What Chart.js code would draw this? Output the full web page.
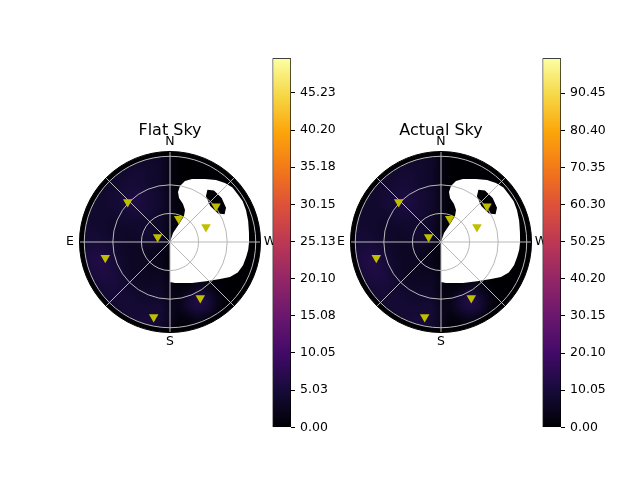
<!DOCTYPE html>
<html>
<head>
<meta charset="utf-8">
<script src="https://cdn.jsdelivr.net/npm/chart.js@4/dist/chart.umd.min.js"></script>
<style>
  html, body { margin: 0; padding: 0; background: #fff; }
  #wrap { position: relative; width: 640px; height: 480px; }
  #wrap canvas { position: absolute; left: 0; top: 0; }
</style>
</head>
<body>
<div id="wrap">
  <canvas id="flatSky" width="640" height="480"></canvas>
  <canvas id="actualSky" width="640" height="480"></canvas>
  <canvas id="flatBar" width="640" height="480"></canvas>
  <canvas id="actualBar" width="640" height="480"></canvas>
</div>
<script>
// satellites (azimuth from N toward E, zenith angle), degrees
const satAzimuth = [46.6, 339.5, 67.9, 307.8, 292.6, 103.6, 208.4, 167.7];
const satZenith = [61.1, 26.1, 14.0, 61.1, 40.9, 69.9, 66.8, 80.5];

// obstructed (white) sky region, and the clear patch inside it
const maskAzimuth = [180, 341.6, 333.4, 331.7, 334.9, 341.1, 348.4, 350.9, 349.9, 346.2, 340.8,
  330.9, 323.4, 317.0, 311.1, 305.0, 299.3, 292.7, 285.2, 277.0, 270.0, 264.4, 259.1, 252.3,
  245.8, 239.7, 233.5, 224.3, 208.2, 187.0, 180];
const maskZenith = [0, 10.0, 21.1, 31.0, 37.1, 42.1, 47.1, 53.1, 59.7, 65.9, 70.0,
  75.6, 81.0, 84.6, 87.0, 87.0, 87.5, 86.5, 85.0, 83.5, 83.0, 82.5, 81.5, 80.5,
  78.0, 72.9, 65.3, 57.1, 48.8, 43.3, 42.0];
const holeAzimuth = [296.9, 301.4, 310.4, 319.5, 324.4, 321.9, 311.8, 300.7];
const holeZenith = [64.2, 68.9, 71.2, 71.1, 67.5, 61.1, 56.7, 58.6];

// sky maps on a 10 deg grid, rows N(+90) -> S(-90), columns E(-90) -> W(+90)
const flatSkyGrid = [
  [3.5, 3.5, 3.5, 3.5, 3.5, 3.5, 3.5, 3.5, 3.5, 1.5, 0, 0, 0, 0, 0, 0, 0, 0, 0],
  [3.5, 3.5, 3.5, 3.5, 4, 4, 4, 4, 3.5, 1.5, 0, 0, 0, 0, 0, 0, 0, 0, 0],
  [3.5, 3.5, 3.5, 4, 4, 4.5, 4.5, 4, 3.5, 1.5, 0, 0, 0, 0, 0, 0, 0, 0, 0],
  [3.5, 3.5, 4, 4, 4.5, 5, 4.5, 4, 3.5, 1.5, 0, 0, 0, 0, 0, 0, 0, 0, 0],
  [3.5, 4, 4, 4.5, 5, 5.5, 5.5, 4.5, 4, 2, 0.5, 0, 0, 0, 0, 0, 0, 0, 0],
  [4, 4, 4, 4.5, 5, 6, 5.5, 4.5, 4, 2, 0.5, 0, 0, 0, 0, 0, 0, 0, 0],
  [4, 4, 4, 4, 4.5, 5, 5, 4.5, 3.5, 2, 0.5, 0, 0, 0, 0, 0, 0, 0, 0],
  [4, 4, 4, 3.5, 4, 4, 4, 4, 3.5, 1.5, 0, 0, 0, 0, 0, 0, 0, 0, 0],
  [4.5, 4.5, 4, 3.5, 3.5, 3.5, 4, 4.5, 3.5, 1.5, 0, 0, 0, 0, 0, 0, 0, 0, 0],
  [4.5, 5, 4.5, 4, 3.5, 3, 3.5, 4, 3, 1, 0, 0, 0, 0, 0, 0, 0, 0, 0],
  [5, 5.5, 5.5, 4.5, 3.5, 3, 3, 2.5, 2, 1, 0, 0, 0, 0, 0, 0, 0, 0, 0],
  [5, 6, 6.5, 5, 4, 3, 3, 2.5, 2, 0.5, 0, 0, 0, 0, 0, 0, 0, 0, 0],
  [4.5, 5.5, 6, 5.5, 4, 3, 3, 2.5, 2.5, 1, 0, 0, 0, 0, 0, 0, 0, 0, 0],
  [4.5, 5, 5.5, 5.5, 4.5, 3.5, 3, 3, 3, 1.5, 0, 0.5, 1, 0.5, 0, 0, 0, 0, 0],
  [4, 4.5, 4.5, 5, 4.5, 4, 3.5, 3.5, 3.5, 1.5, 1, 2, 3.5, 2.5, 1, 0, 0, 0, 0],
  [4, 4, 4.5, 4.5, 4.5, 4.5, 4, 4, 4, 2, 2, 4.5, 6.5, 5, 2, 0.5, 0, 0, 0],
  [4, 4, 4, 4, 4.5, 4.5, 4.5, 4.5, 4.5, 2.5, 2, 4, 5.5, 4.5, 1.5, 0, 0, 0, 0],
  [4, 4, 4, 4, 4, 4.5, 5, 5, 4.5, 2.5, 1, 1.5, 2.5, 1.5, 0.5, 0, 0, 0, 0],
  [4, 4, 4, 4, 4, 4.5, 4.5, 4.5, 4, 2, 0.5, 0.5, 1, 0.5, 0, 0, 0, 0, 0],
];
const actualSkyGrid = [
  [7, 7, 7, 7, 7, 7, 7, 7, 7, 3, 0, 0, 0, 0, 0, 0, 0, 0, 0],
  [7, 7, 7, 7, 8, 8, 8, 8, 7, 3, 0, 0, 0, 0, 0, 0, 0, 0, 0],
  [7, 7, 7, 8, 8, 9, 9, 8, 7, 3, 0, 0, 0, 0, 0, 0, 0, 0, 0],
  [7, 7, 8, 8, 9, 10, 9, 8, 7, 3, 0, 0, 0, 0, 0, 0, 0, 0, 0],
  [7, 8, 8, 9, 10, 11, 11, 9, 8, 4, 1, 0, 0, 0, 0, 0, 0, 0, 0],
  [8, 8, 8, 9, 10, 12, 11, 9, 8, 4, 1, 0, 0, 0, 0, 0, 0, 0, 0],
  [8, 8, 8, 8, 9, 10, 10, 9, 7, 4, 1, 0, 0, 0, 0, 0, 0, 0, 0],
  [8, 8, 8, 7, 8, 8, 8, 8, 7, 3, 0, 0, 0, 0, 0, 0, 0, 0, 0],
  [9, 9, 8, 7, 7, 7, 8, 9, 7, 3, 0, 0, 0, 0, 0, 0, 0, 0, 0],
  [9, 10, 9, 8, 7, 6, 7, 8, 6, 2, 0, 0, 0, 0, 0, 0, 0, 0, 0],
  [10, 11, 11, 9, 7, 6, 6, 5, 4, 2, 0, 0, 0, 0, 0, 0, 0, 0, 0],
  [10, 12, 13, 10, 8, 6, 6, 5, 4, 1, 0, 0, 0, 0, 0, 0, 0, 0, 0],
  [9, 11, 12, 11, 8, 6, 6, 5, 5, 2, 0, 0, 0, 0, 0, 0, 0, 0, 0],
  [9, 10, 11, 11, 9, 7, 6, 6, 6, 3, 0, 1, 2, 1, 0, 0, 0, 0, 0],
  [8, 9, 9, 10, 9, 8, 7, 7, 7, 3, 2, 4, 7, 5, 2, 0, 0, 0, 0],
  [8, 8, 9, 9, 9, 9, 8, 8, 8, 4, 4, 9, 13, 10, 4, 1, 0, 0, 0],
  [8, 8, 8, 8, 9, 9, 9, 9, 9, 5, 4, 8, 11, 9, 3, 0, 0, 0, 0],
  [8, 8, 8, 8, 8, 9, 10, 10, 9, 5, 2, 3, 5, 3, 1, 0, 0, 0, 0],
  [8, 8, 8, 8, 8, 9, 9, 9, 8, 4, 1, 1, 2, 1, 0, 0, 0, 0, 0],
];

// colorbars
const flatMax = 49.9;
const flatTickValues = [0, 5.025, 10.05, 15.075, 20.1, 25.125, 30.15, 35.175, 40.2, 45.225];
const flatTickLabels = ['0.00', '5.03', '10.05', '15.08', '20.10', '25.13', '30.15', '35.18', '40.20', '45.23'];
const actualMax = 99.9;
const actualTickValues = [0, 10.05, 20.1, 30.15, 40.2, 50.25, 60.3, 70.35, 80.4, 90.45];
const actualTickLabels = ['0.00', '10.05', '20.10', '30.15', '40.20', '50.25', '60.30', '70.35', '80.40', '90.45'];

const R_MAX = 95;
const GRID_HALF = 95;
const FONT = '"DejaVu Sans", Verdana, sans-serif';

const INFERNO = ['#000004', '#160b39', '#420a68', '#6a176e', '#932667', '#bc3754',
  '#dd513a', '#f37819', '#fca50a', '#f6d746', '#fcffa4'];
const infernoRgb = INFERNO.map((h) => [1, 3, 5].map((i) => parseInt(h.slice(i, i + 2), 16)));

function inferno(t) {
  t = Math.min(1, Math.max(0, t)) * 10;
  const i = Math.min(9, Math.floor(t));
  const f = t - i;
  const a = infernoRgb[i], b = infernoRgb[i + 1];
  return a.map((v, k) => Math.round(v + (b[k] - v) * f));
}

function skyXY(az, zen) {
  const a = az * Math.PI / 180;
  return { x: -zen * Math.sin(a), y: zen * Math.cos(a) };
}

function skyPlugin(title, grid, vmax) {
  return {
    id: 'sky',
    beforeDatasetsDraw(chart) {
      const { ctx, chartArea } = chart;
      const xs = chart.scales.x, ys = chart.scales.y;
      const cx = xs.getPixelForValue(0), cy = ys.getPixelForValue(0);
      const rad = (v) => xs.getPixelForValue(v) - cx;
      const toPx = (az, zen) => {
        const p = skyXY(az, zen);
        return [xs.getPixelForValue(p.x), ys.getPixelForValue(p.y)];
      };

      ctx.save();
      ctx.beginPath();
      ctx.arc(cx, cy, rad(R_MAX), 0, 2 * Math.PI);
      ctx.fillStyle = INFERNO[0];
      ctx.fill();

      // heat map
      const rows = grid.length, cols = grid[0].length;
      const off = document.createElement('canvas');
      off.width = cols;
      off.height = rows;
      const octx = off.getContext('2d');
      const img = octx.createImageData(cols, rows);
      grid.forEach((row, i) => row.forEach((v, j) => {
        const c = inferno(v / vmax);
        const k = (i * cols + j) * 4;
        img.data[k] = c[0];
        img.data[k + 1] = c[1];
        img.data[k + 2] = c[2];
        img.data[k + 3] = 255;
      }));
      octx.putImageData(img, 0, 0);
      ctx.save();
      ctx.beginPath();
      ctx.arc(cx, cy, rad(90), 0, 2 * Math.PI);
      ctx.clip();
      ctx.imageSmoothingEnabled = true;
      ctx.imageSmoothingQuality = 'high';
      const x0 = xs.getPixelForValue(-GRID_HALF), x1 = xs.getPixelForValue(GRID_HALF);
      const y0 = ys.getPixelForValue(GRID_HALF), y1 = ys.getPixelForValue(-GRID_HALF);
      ctx.drawImage(off, x0, y0, x1 - x0, y1 - y0);
      ctx.restore();

      // mask
      ctx.beginPath();
      maskAzimuth.forEach((a, i) => {
        const [px, py] = toPx(a, maskZenith[i]);
        i ? ctx.lineTo(px, py) : ctx.moveTo(px, py);
      });
      ctx.closePath();
      holeAzimuth.forEach((a, i) => {
        const [px, py] = toPx(a, holeZenith[i]);
        i ? ctx.lineTo(px, py) : ctx.moveTo(px, py);
      });
      ctx.closePath();
      ctx.fillStyle = '#ffffff';
      ctx.fill('evenodd');

      // grid
      ctx.strokeStyle = '#b8b8b8';
      ctx.lineWidth = 1;
      [30, 60, 90].forEach((r) => {
        ctx.beginPath();
        ctx.arc(cx, cy, rad(r), 0, 2 * Math.PI);
        ctx.stroke();
      });
      for (let az = 0; az < 360; az += 45) {
        const [px, py] = toPx(az, R_MAX);
        ctx.beginPath();
        ctx.moveTo(cx, cy);
        ctx.lineTo(px, py);
        ctx.stroke();
      }
      ctx.beginPath();
      ctx.arc(cx, cy, rad(R_MAX), 0, 2 * Math.PI);
      ctx.strokeStyle = '#000';
      ctx.lineWidth = 1;
      ctx.stroke();

      // labels
      ctx.fillStyle = '#000';
      ctx.font = '12.5px ' + FONT;
      ctx.textAlign = 'center';
      ctx.textBaseline = 'middle';
      const lr = rad(R_MAX) + 9.5;
      [['N', 0], ['E', 90], ['S', 180], ['W', 270]].forEach(([t, az]) => {
        const a = az * Math.PI / 180;
        ctx.fillText(t, cx - lr * Math.sin(a), cy - lr * Math.cos(a));
      });
      ctx.font = '16px ' + FONT;
      ctx.textBaseline = 'alphabetic';
      ctx.fillText(title, cx, chartArea.top - 16.5);
      ctx.restore();
    },
  };
}

function createSkyChart(id, title, grid, vmax, padding) {
  return new Chart(document.getElementById(id), {
    type: 'scatter',
    data: {
      datasets: [{
        data: satAzimuth.map((a, i) => skyXY(a, satZenith[i])),
        pointStyle: 'triangle',
        rotation: 180,
        radius: 5.5,
        backgroundColor: '#bfbf00',
        borderWidth: 0,
      }],
    },
    options: {
      responsive: false,
      animation: false,
      events: [],
      layout: { padding },
      plugins: { legend: { display: false }, tooltip: { enabled: false } },
      scales: {
        x: { display: false, min: -R_MAX, max: R_MAX },
        y: { display: false, min: -R_MAX, max: R_MAX },
      },
    },
    plugins: [skyPlugin(title, grid, vmax)],
  });
}

function createColorbar(id, max, tickValues, tickLabels, left) {
  return new Chart(document.getElementById(id), {
    type: 'bar',
    data: {
      labels: [''],
      datasets: [{
        data: [[0, max]],
        backgroundColor: (c) => {
          const area = c.chart.chartArea;
          if (!area) return null;
          const g = c.chart.ctx.createLinearGradient(0, area.bottom, 0, area.top);
          INFERNO.forEach((col, i) => g.addColorStop(i / 10, col));
          return g;
        },
        borderColor: '#000',
        borderWidth: 1,
        borderSkipped: false,
        barPercentage: 1,
        categoryPercentage: 1,
      }],
    },
    options: {
      responsive: false,
      animation: false,
      events: [],
      layout: { padding: { left: left, top: 58.3, right: 640 - left - 18.5 - 50, bottom: 480 - 427.3 } },
      plugins: { legend: { display: false }, tooltip: { enabled: false } },
      scales: {
        x: { display: false },
        y: {
          position: 'right',
          min: 0,
          max: max,
          afterBuildTicks: (s) => { s.ticks = tickValues.map((v) => ({ value: v })); },
          afterFit: (s) => { s.width = 50; },
          grid: { drawOnChartArea: false, drawTicks: true, tickLength: 4, color: '#000' },
          border: { display: false },
          ticks: {
            autoSkip: false,
            callback: (v, i) => tickLabels[i],
            color: '#000',
            font: { family: FONT, size: 12.5 },
            padding: 5,
          },
        },
      },
    },
  });
}

createSkyChart('flatSky', 'Flat Sky', flatSkyGrid, flatMax,
  { left: 79.5, top: 151.5, right: 379.5, bottom: 147.5 });
createSkyChart('actualSky', 'Actual Sky', actualSkyGrid, actualMax,
  { left: 350.5, top: 151.5, right: 108.5, bottom: 147.5 });
createColorbar('flatBar', flatMax, flatTickValues, flatTickLabels, 272.5);
createColorbar('actualBar', actualMax, actualTickValues, actualTickLabels, 542.5);
</script>
</body>
</html>
